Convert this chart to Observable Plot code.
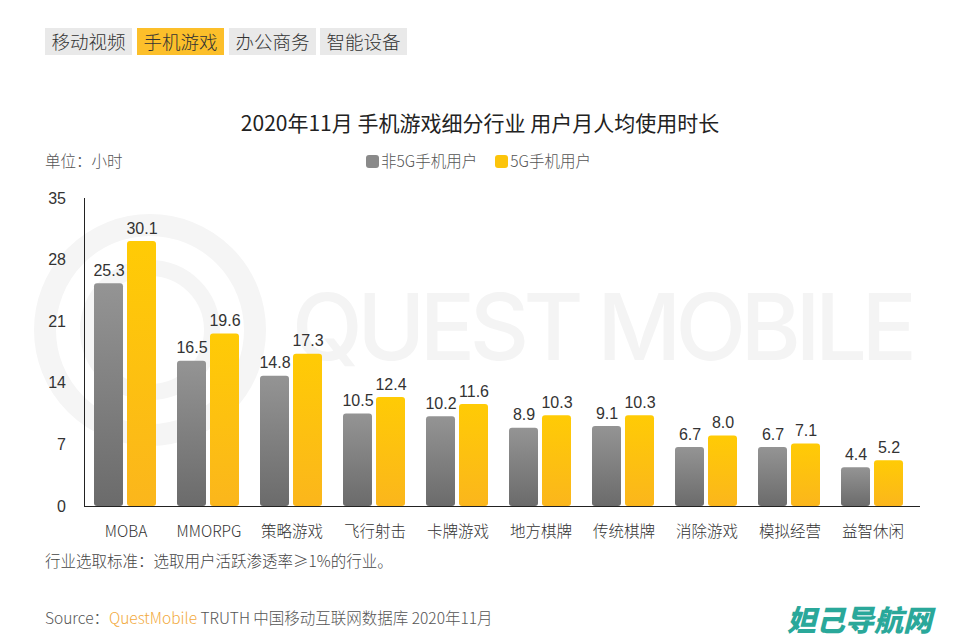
<!DOCTYPE html>
<html><head><meta charset="utf-8">
<script src="https://cdn.jsdelivr.net/npm/d3@7"></script>
<script src="https://cdn.jsdelivr.net/npm/@observablehq/plot@0.6"></script>
<style>
body{margin:0;width:960px;height:640px;position:relative;overflow:hidden;background:#fff;font-family:"Noto Sans CJK SC","Noto Sans",sans-serif;color:#444}
.abs{position:absolute;white-space:nowrap}
.tab{position:absolute;top:28px;height:27px;line-height:27px;font-size:18.5px;color:#333;background:#e9e9e9;text-align:center;width:87px;font-weight:300}
.tab.on{background:#fcbf2a}
.sq{display:inline-block;width:13px;height:13px;border-radius:3px;vertical-align:-1px;margin-right:2px}
#chart{position:absolute;left:0;top:180px}
</style></head>
<body>
<div id="wm" class="abs" style="left:0;top:0;width:960px;height:640px;"></div>
<div class="tab" style="left:45px">移动视频</div>
<div class="tab on" style="left:137px">手机游戏</div>
<div class="tab" style="left:229px">办公商务</div>
<div class="tab" style="left:320px">智能设备</div>
<div class="abs" style="left:0;width:960px;text-align:center;top:107px;line-height:30px;font-size:21px;color:#222">2020年11月 手机游戏细分行业 用户月人均使用时长</div>
<div class="abs" style="left:45px;top:150px;line-height:20px;font-size:15.5px;color:#555;font-weight:300">单位：小时</div>
<div id="legend" class="abs" style="left:366px;top:150px;line-height:20px;font-size:15.5px;color:#555;font-weight:300"></div>
<div id="chart"></div>
<div class="abs" style="left:45px;top:550px;line-height:20px;font-size:15.5px;color:#444;font-weight:300">行业选取标准：选取用户活跃渗透率≥1%的行业。</div>
<div class="abs" style="left:45px;top:607px;line-height:20px;font-size:15.5px;color:#555;font-weight:300">Source：<span style="color:#f2a93b">QuestMobile</span> TRUTH 中国移动互联网数据库 2020年11月</div>
<div class="abs" style="left:787px;top:598px;line-height:40px;font-size:29px;font-weight:900;font-style:italic;color:#2aa89a">妲己导航网</div>
<script>
const categories = ["MOBA","MMORPG","策略游戏","飞行射击","卡牌游戏","地方棋牌","传统棋牌","消除游戏","模拟经营","益智休闲"];
const seriesNames = ["非5G手机用户","5G手机用户"];
const non5GValues = [25.3,16.5,14.8,10.5,10.2,8.9,9.1,6.7,6.7,4.4];
const fiveGValues = [30.1,19.6,17.3,12.4,11.6,10.3,10.3,8.0,7.1,5.2];
const yTicks = [0,7,14,21,28,35];
const seriesFill = ["url(#gGray)","url(#gGold)"];
const legendColors = ["#8a8a8a","#fcc40a"];

const data = categories.flatMap((c,i)=>[
  {cat:c, s:seriesNames[0], v:non5GValues[i]},
  {cat:c, s:seriesNames[1], v:fiveGValues[i]}
]);

// watermark
document.getElementById("wm").innerHTML =
 `<svg width="960" height="640" style="position:absolute;left:0;top:0">
   <g fill="none" stroke="#f5f5f5">
    <circle cx="150" cy="330" r="105" stroke-width="22"/>
    <circle cx="150" cy="330" r="62" stroke-width="16"/>
   </g>
   <text x="292" y="360" font-family="Inter, Roboto, sans-serif" font-size="92" font-weight="500" fill="#f4f4f4" textLength="625">QUEST MOBILE</text>
  </svg>`;

document.getElementById("legend").innerHTML = seriesNames.map((s,i)=>
  `<span style="margin-right:${i==0?18:0}px"><span class="sq" style="background:${legendColors[i]}"></span>${s}</span>`).join("");

const chart = Plot.plot({
  width: 960, height: 370,
  marginTop: 18, marginBottom: 44, marginLeft: 84, marginRight: 46,
  style: {background: "transparent", fontSize: "15.5px", fontFamily: "'Noto Sans CJK SC', sans-serif", color: "#333", fontWeight: 300},
  fx: {domain: categories, paddingInner: 0.24, paddingOuter: 0.12, label: null, axis: "bottom", tickSize: 0, tickPadding: 19},
  x: {domain: seriesNames, axis: null, paddingInner: 0.12, paddingOuter: 0},
  y: {domain: [0, 35], ticks: yTicks, axis: null},
  marks: [
    Plot.barY(data.filter(d=>d.s===seriesNames[0]), {fx:"cat", x:"s", y:"v", fill: seriesFill[0], rx: 3}),
    Plot.barY(data.filter(d=>d.s===seriesNames[1]), {fx:"cat", x:"s", y:"v", fill: seriesFill[1], rx: 3}),
    Plot.text(data, {fx:"cat", x:"s", y:"v", text: d=>d.v.toFixed(1), dy: -13, fill:"#333", fontSize: 16, fontFamily: "'Liberation Sans', Arial, sans-serif", fontWeight: 400})
  ]
});

// gradients
const ns = "http://www.w3.org/2000/svg";
const defs = document.createElementNS(ns, "defs");
defs.innerHTML = `
 <linearGradient id="gGray" x1="0" y1="0" x2="0" y2="1"><stop offset="0" stop-color="#949494"/><stop offset="1" stop-color="#6b6b6b"/></linearGradient>
 <linearGradient id="gGold" x1="0" y1="0" x2="0" y2="1"><stop offset="0" stop-color="#ffcb05"/><stop offset="1" stop-color="#fbb61c"/></linearGradient>`;
chart.insertBefore(defs, chart.firstChild);

// axes lines and y tick labels via the y scale
const y = chart.scale("y");
const g = document.createElementNS(ns, "g");
const y0 = y.apply(0), yTop = y.apply(35);
let html = `<line x1="84.5" x2="84.5" y1="${yTop}" y2="${y0}" stroke="#222"/>
 <line x1="84" x2="920" y1="${y0+0.5}" y2="${y0+0.5}" stroke="#222"/>`;
for (const t of yTicks) {
  html += `<text x="66" y="${y.apply(t)}" dy="0.35em" text-anchor="end" font-family="'Liberation Sans', Arial, sans-serif" font-size="16" fill="#333">${t}</text>`;
}
g.innerHTML = html;
chart.appendChild(g);

document.getElementById("chart").appendChild(chart);
</script>
</body></html>
